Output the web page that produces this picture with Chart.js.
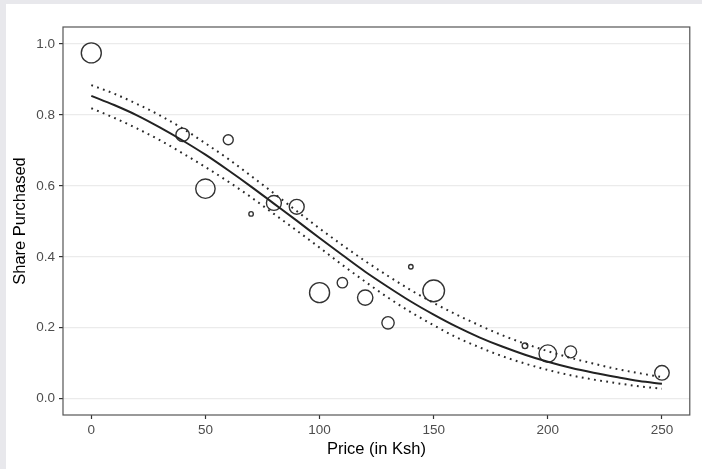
<!DOCTYPE html>
<html>
<head>
<meta charset="utf-8">
<script src="https://cdn.jsdelivr.net/npm/chart.js@4.4.1/dist/chart.umd.min.js"></script>
<style>
    html, body { margin: 0; padding: 0; background: #e8e8ec; overflow: hidden; }
    #wrap { position: absolute; left: 6px; top: 4px; width: 696px; height: 465px; background: #ffffff; }
</style>
</head>
<body>
<div id="wrap"><canvas id="priceChart"></canvas></div>
<script>
// observed shares by price point (circle area ~ respondents)
const prices = [0, 40, 50, 60, 70, 80, 90, 100, 110, 120, 130, 140, 150, 190, 200, 210, 250];
const shares = [0.975, 0.744, 0.592, 0.73, 0.521, 0.552, 0.541, 0.299, 0.327, 0.285, 0.214, 0.372, 0.304, 0.149, 0.127, 0.132, 0.073];
const respondents = [100, 45, 94, 25, 5, 56, 56, 100, 27, 59, 38, 5, 117, 8, 77, 36, 53];

// fitted curve and confidence band
const curvePrices = [0, 10, 20, 30, 40, 50, 60, 70, 80, 90, 100, 110, 120, 130, 140, 150, 160, 170, 180, 190, 200, 210, 220, 230, 240, 250];
const fitted = [0.854, 0.828, 0.799, 0.765, 0.728, 0.688, 0.644, 0.598, 0.550, 0.502, 0.453, 0.405, 0.358, 0.315, 0.274, 0.237, 0.203, 0.173, 0.147, 0.124, 0.104, 0.087, 0.073, 0.061, 0.050, 0.042];
const upperCI = [0.884, 0.860, 0.831, 0.799, 0.762, 0.720, 0.676, 0.628, 0.579, 0.529, 0.480, 0.433, 0.388, 0.346, 0.306, 0.270, 0.237, 0.207, 0.179, 0.155, 0.134, 0.115, 0.099, 0.084, 0.072, 0.061];
const lowerCI = [0.819, 0.792, 0.762, 0.729, 0.692, 0.653, 0.612, 0.568, 0.521, 0.474, 0.426, 0.377, 0.330, 0.285, 0.244, 0.207, 0.173, 0.145, 0.120, 0.099, 0.081, 0.066, 0.054, 0.044, 0.035, 0.028];

const xTicks = [0, 50, 100, 150, 200, 250];
const yTicks = [0.0, 0.2, 0.4, 0.6, 0.8, 1.0];

const FONT = '"Liberation Sans", Arial, Helvetica, sans-serif';

function toPoints(xs, ys) {
    return xs.map((x, i) => ({ x: x, y: ys[i] }));
}

// frame around the panel, like ggplot's panel border
const panelBorder = {
    id: 'panelBorder',
    afterDatasetsDraw(chart) {
        const { ctx, chartArea: a } = chart;
        ctx.save();
        ctx.strokeStyle = '#555555';
        ctx.lineWidth = 1.2;
        ctx.strokeRect(a.left, a.top, a.right - a.left, a.bottom - a.top);
        ctx.restore();
    }
};

const bandStyle = {
    borderColor: '#2a2a2a',
    borderWidth: 2,
    borderDash: [1.8, 4.4],
    pointRadius: 0,
    cubicInterpolationMode: 'monotone',
    fill: false,
    order: 2
};

const config = {
    data: {
        datasets: [
            {
                type: 'scatter',
                label: 'Observed',
                data: toPoints(prices, shares),
                pointRadius: respondents.map(n => Math.sqrt(n)),
                pointHoverRadius: respondents.map(n => Math.sqrt(n)),
                pointBackgroundColor: 'rgba(0,0,0,0)',
                pointBorderColor: '#333333',
                pointBorderWidth: 1.4,
                order: 3
            },
            Object.assign({ type: 'line', label: 'Upper', data: toPoints(curvePrices, upperCI) }, bandStyle),
            Object.assign({ type: 'line', label: 'Lower', data: toPoints(curvePrices, lowerCI) }, bandStyle),
            {
                type: 'line',
                label: 'Fitted',
                data: toPoints(curvePrices, fitted),
                borderColor: '#222222',
                borderWidth: 2,
                pointRadius: 0,
                cubicInterpolationMode: 'monotone',
                fill: false,
                order: 1
            }
        ]
    },
    options: {
        responsive: true,
        maintainAspectRatio: false,
        animation: false,
        devicePixelRatio: 1,
        layout: { padding: { top: 23, right: 7, left: 0, bottom: 0 } },
        plugins: {
            legend: { display: false },
            tooltip: { enabled: false }
        },
        scales: {
            x: {
                type: 'linear',
                min: -12.4,
                max: 262.2,
                afterBuildTicks: scale => { scale.ticks = xTicks.map(v => ({ value: v })); },
                afterFit: scale => { scale.height = 54; },
                border: { display: false },
                grid: { display: true, drawOnChartArea: false, drawTicks: true, tickLength: 4, tickColor: '#333333', tickWidth: 1.2 },
                ticks: {
                    color: '#4d4d4d',
                    padding: 3,
                    maxRotation: 0,
                    font: { family: FONT, size: 13.5 },
                    callback: v => String(v)
                },
                title: {
                    display: true,
                    text: 'Price (in Ksh)',
                    color: '#000000',
                    font: { family: FONT, size: 16.5 },
                    padding: { top: 0, bottom: 10 }
                }
            },
            y: {
                type: 'linear',
                min: -0.046,
                max: 1.048,
                afterBuildTicks: scale => { scale.ticks = yTicks.map(v => ({ value: v })); },
                afterFit: scale => { scale.width = 57; },
                border: { display: false },
                grid: { color: '#ebebeb', lineWidth: 1.2, drawTicks: true, tickLength: 4, tickColor: '#333333', tickWidth: 1.2 },
                ticks: {
                    color: '#4d4d4d',
                    padding: 4,
                    font: { family: FONT, size: 13.5 },
                    callback: v => v.toFixed(1)
                },
                title: {
                    display: true,
                    text: 'Share Purchased',
                    color: '#000000',
                    font: { family: FONT, size: 16.5 },
                    padding: { top: 5, bottom: 0 }
                }
            }
        }
    },
    plugins: [panelBorder]
};

const ctx = document.getElementById('priceChart').getContext('2d');
const chart = new Chart(ctx, config);
</script>
</body>
</html>
